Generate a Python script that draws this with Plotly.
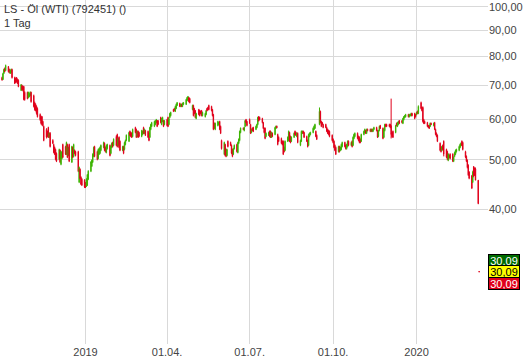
import numpy as np
import pandas as pd
import plotly.graph_objects as go

# ---------------- data ----------------
title_line1 = "LS - Öl (WTI) (792451) ()"
title_line2 = "1 Tag"

start_date = "2018-10-01"
end_date = "2020-03-10"

open_ = [
    72.6, 72.0, 74.0, 75.6, 75.0,
    76.3, 75.3, 74.0, 74.3, 75.3,
    72.6, 72.3, 72.6, 72.0, 71.7,
    68.5, 70.0, 69.7, 69.7, 67.9,
    67.9, 66.3, 66.6, 66.9, 67.9,
    66.9, 64.8, 64.3, 63.7, 63.1,
    61.4, 60.8, 60.8, 59.5, 58.2,
    57.4, 56.9, 57.9, 55.4, 56.4,
    54.6, 53.6, 52.9, 52.4, 51.5,
    50.1, 52.2, 49.0, 50.3, 53.6,
    53.1, 51.3, 53.6, 51.0, 53.6,
    49.5, 52.9, 50.8, 52.2, 51.9,
    51.9, 45.2, 47.9, 46.2, 45.8,
    45.6, 45.0, 44.4, 44.6, 45.8,
    47.5, 48.6, 49.5, 50.8, 53.1,
    51.9, 50.3, 51.3, 51.5, 52.2,
    52.9, 53.9, 52.9, 51.7, 52.6,
    53.4, 51.5, 52.9, 54.1, 53.4,
    55.6, 56.1, 53.4, 55.4, 54.4,
    52.2, 53.1, 52.4, 53.6, 54.6,
    54.4, 56.9, 56.6, 56.4, 55.6,
    57.9, 57.4, 55.6, 56.9, 56.6,
    55.6, 56.1, 57.9, 56.4, 57.1,
    56.9, 56.4, 55.4, 57.4, 58.2,
    58.2, 58.7, 59.2, 59.7, 59.7,
    60.6, 58.7, 59.5, 59.7, 58.7,
    60.0, 60.6, 58.7, 60.6, 61.1,
    62.8, 63.1, 62.3, 63.1, 64.0,
    64.6, 63.7, 64.3, 63.7, 64.3,
    64.3, 65.4, 65.7, 66.3, 66.0,
    62.8, 64.0, 63.1, 62.5, 60.3,
    62.8, 62.5, 62.3, 62.5, 61.1,
    60.8, 61.4, 63.1, 63.4, 64.0,
    63.7, 62.8, 61.4, 59.0, 57.4,
    58.4, 58.7, 59.5, 58.2, 54.6,
    51.3, 53.6, 52.4, 51.0, 54.4,
    54.1, 53.4, 52.4, 51.3, 52.6,
    53.6, 51.7, 53.9, 54.6, 56.6,
    57.7, 57.1, 58.2, 60.0, 59.5,
    60.0, 58.7, 56.6, 57.7, 57.9,
    57.4, 57.9, 58.7, 60.8, 60.6,
    60.3, 59.2, 57.7, 57.7, 55.6,
    55.9, 56.9, 56.9, 55.4, 56.4,
    56.1, 57.7, 58.2, 56.1, 55.4,
    55.1, 54.4, 54.4, 52.9, 52.2,
    54.4, 54.6, 56.6, 55.6, 54.4,
    55.4, 56.9, 56.6, 55.6, 56.4,
    53.4, 54.4, 56.4, 56.9, 56.6,
    55.6, 54.6, 53.4, 55.6, 56.1,
    56.6, 57.4, 57.7, 56.9, 55.9,
    58.7, 62.3, 59.5, 59.2, 58.7,
    58.7, 57.9, 57.4, 57.1, 56.9,
    55.9, 54.9, 54.4, 53.4, 52.9,
    51.9, 53.1, 52.2, 52.4, 53.1,
    54.1, 53.4, 52.6, 53.1, 54.4,
    53.4, 54.4, 53.4, 55.1, 55.6,
    56.4, 55.6, 55.4, 54.9, 54.4,
    56.1, 56.6, 57.1, 56.4, 57.4,
    57.4, 56.9, 57.4, 56.9, 57.4,
    57.9, 57.1, 55.6, 57.1, 58.4,
    57.7, 55.4, 57.1, 58.7, 58.7,
    58.7, 58.7, 58.4, 56.6, 56.9,
    56.6, 59.0, 58.2, 58.7, 59.7,
    59.7, 59.0, 60.0, 60.6, 60.8,
    61.4, 60.8, 61.1, 61.1, 61.7,
    61.7, 61.4, 61.4, 62.3, 61.7,
    64.8, 63.4, 63.4, 60.0, 59.5,
    59.2, 58.4, 58.4, 58.2, 59.0,
    58.4, 59.2, 57.4, 56.4, 55.9,
    53.9, 52.9, 52.2, 53.4, 54.4,
    52.4, 51.9, 49.9, 50.6, 51.3,
    51.3, 49.7, 50.8, 51.3, 51.9,
    52.2, 52.9, 53.4, 54.4, 54.1,
    51.9, 50.8, 49.9, 48.8, 47.3,
    46.5, 45.2, 48.5, 48.2, 48.0,
    45.6, 30.15,
]

high = [
    72.9, 74.2, 75.6, 76.0, 77.0,
    76.5, 75.6, 75.3, 75.6, 75.6,
    72.9, 72.6, 72.8, 72.3, 72.0,
    70.5, 70.3, 70.0, 69.9, 68.2,
    68.1, 68.1, 67.8, 68.2, 68.1,
    67.2, 65.1, 64.6, 64.0, 63.4,
    61.7, 61.1, 61.0, 59.7, 58.4,
    57.7, 57.1, 58.1, 56.6, 56.7,
    54.9, 53.8, 53.1, 52.6, 51.7,
    52.6, 52.4, 52.1, 51.9, 53.8,
    53.3, 54.3, 53.8, 53.1, 53.8,
    53.3, 53.1, 53.8, 52.4, 52.1,
    52.1, 48.5, 48.1, 46.4, 46.0,
    45.8, 45.2, 46.0, 46.9, 47.7,
    49.7, 50.1, 51.5, 53.1, 53.3,
    52.1, 52.6, 52.8, 53.1, 53.6,
    54.3, 54.1, 53.1, 53.6, 53.8,
    53.6, 53.3, 54.1, 54.3, 55.1,
    55.9, 56.3, 55.3, 55.6, 54.6,
    53.3, 53.3, 54.3, 54.8, 56.1,
    56.8, 57.1, 56.8, 56.6, 57.6,
    58.1, 57.6, 57.1, 57.1, 56.8,
    57.3, 57.1, 58.1, 57.6, 57.3,
    57.1, 56.6, 58.1, 58.9, 59.4,
    59.7, 59.9, 60.2, 59.9, 59.9,
    60.8, 60.5, 60.8, 59.9, 59.9,
    60.2, 60.8, 60.5, 61.9, 62.2,
    63.0, 63.3, 63.9, 64.5, 65.0,
    64.8, 64.5, 64.5, 64.8, 65.0,
    65.9, 66.5, 66.8, 66.5, 66.2,
    64.2, 64.2, 63.3, 62.7, 61.9,
    63.0, 62.7, 62.5, 62.7, 62.2,
    61.9, 62.7, 63.3, 63.6, 64.2,
    63.9, 63.0, 61.6, 59.2, 59.2,
    59.7, 59.4, 59.7, 58.4, 54.8,
    54.3, 53.8, 52.6, 52.6, 54.6,
    54.3, 53.6, 52.6, 52.8, 53.6,
    53.8, 54.3, 55.1, 57.1, 57.9,
    57.9, 58.1, 59.9, 60.2, 59.7,
    60.3, 58.9, 57.6, 57.9, 58.1,
    58.4, 58.9, 60.8, 61.0, 60.8,
    60.5, 59.4, 57.9, 57.9, 56.6,
    56.8, 57.1, 57.1, 56.8, 56.6,
    58.1, 58.4, 58.4, 56.3, 55.6,
    55.3, 54.6, 54.6, 53.1, 54.6,
    55.6, 57.1, 56.8, 55.8, 55.6,
    56.6, 57.1, 56.8, 56.6, 56.6,
    54.8, 57.1, 57.1, 57.1, 56.8,
    55.8, 54.8, 56.3, 56.6, 56.8,
    57.9, 58.4, 58.9, 57.1, 56.1,
    63.4, 62.5, 59.7, 59.4, 58.9,
    58.9, 58.1, 57.6, 57.3, 57.1,
    56.1, 55.1, 54.6, 53.6, 53.1,
    53.3, 53.3, 53.1, 53.8, 54.3,
    54.3, 53.6, 53.8, 54.6, 54.6,
    54.3, 54.6, 55.6, 56.3, 56.6,
    56.6, 55.8, 55.6, 55.1, 56.3,
    57.1, 57.6, 57.3, 57.6, 57.6,
    57.6, 57.6, 57.6, 57.6, 58.1,
    58.1, 57.3, 57.3, 58.4, 58.6,
    57.9, 57.6, 58.9, 58.9, 58.9,
    58.9, 58.9, 66.0, 56.8, 57.1,
    58.6, 59.2, 59.4, 59.7, 59.9,
    59.9, 60.5, 61.0, 61.3, 61.6,
    61.6, 61.6, 61.6, 61.9, 61.9,
    61.9, 61.6, 62.2, 62.5, 64.0,
    65.1, 63.6, 63.7, 60.2, 59.7,
    59.4, 58.6, 58.6, 59.2, 59.2,
    59.2, 59.4, 57.6, 56.6, 56.1,
    54.1, 53.1, 53.3, 53.6, 54.6,
    52.6, 52.1, 51.5, 51.2, 51.5,
    51.5, 50.8, 51.9, 52.4, 52.6,
    53.3, 53.8, 54.1, 54.6, 54.3,
    52.1, 51.0, 50.1, 49.0, 47.5,
    46.7, 47.6, 48.6, 48.3, 48.3,
    45.6, 30.2,
]

low = [
    71.6, 71.8, 73.8, 74.4, 74.8,
    74.3, 74.0, 73.8, 74.0, 72.3,
    70.5, 70.8, 71.0, 70.5, 69.5,
    68.3, 68.5, 68.2, 65.5, 65.4,
    65.8, 66.1, 66.4, 66.7, 64.8,
    63.4, 62.5, 62.3, 61.4, 60.6,
    59.7, 58.7, 58.4, 58.2, 54.4,
    55.1, 55.4, 55.2, 55.2, 52.9,
    53.7, 51.5, 51.1, 49.9, 49.5,
    49.9, 49.3, 48.8, 50.1, 50.4,
    51.1, 51.1, 50.4, 50.8, 49.5,
    49.3, 50.4, 50.6, 51.3, 50.8,
    47.3, 45.0, 45.8, 44.6, 44.4,
    44.0, 44.0, 44.2, 44.4, 45.6,
    47.3, 48.4, 49.3, 50.6, 50.6,
    49.9, 50.1, 51.1, 51.3, 52.0,
    52.7, 52.0, 51.7, 51.5, 52.4,
    50.8, 51.3, 52.7, 52.9, 53.2,
    53.2, 52.9, 53.2, 52.7, 52.0,
    52.0, 51.3, 52.2, 53.4, 54.4,
    54.2, 55.7, 55.4, 55.2, 55.4,
    56.4, 55.2, 55.4, 55.2, 55.4,
    55.4, 55.9, 56.2, 56.2, 55.7,
    55.2, 54.4, 55.2, 57.2, 58.0,
    58.0, 58.5, 59.0, 58.0, 58.5,
    59.0, 58.5, 59.3, 58.0, 58.5,
    58.2, 58.0, 58.5, 60.4, 60.9,
    62.1, 62.3, 62.1, 62.9, 63.8,
    63.5, 63.5, 63.5, 63.5, 64.1,
    64.1, 65.2, 65.5, 64.9, 64.6,
    62.6, 60.9, 61.5, 60.4, 60.1,
    61.2, 60.9, 61.5, 60.9, 60.9,
    60.6, 61.2, 62.3, 62.6, 62.6,
    62.3, 60.9, 57.2, 57.5, 57.2,
    58.2, 58.5, 57.2, 56.2, 52.4,
    51.1, 50.8, 50.6, 50.8, 52.9,
    53.2, 51.3, 50.6, 51.1, 52.4,
    51.7, 51.5, 53.7, 54.4, 56.4,
    57.2, 56.9, 58.0, 59.0, 58.2,
    58.8, 56.2, 56.4, 56.9, 56.7,
    57.2, 57.7, 58.5, 59.5, 59.8,
    59.0, 57.5, 56.4, 54.9, 55.4,
    55.7, 55.4, 55.2, 55.2, 55.4,
    55.9, 57.5, 57.7, 53.4, 54.2,
    53.7, 53.4, 51.1, 51.7, 52.0,
    54.2, 54.4, 54.2, 53.9, 54.2,
    55.2, 55.9, 55.7, 55.4, 53.9,
    53.2, 54.2, 56.2, 56.2, 55.2,
    54.2, 52.9, 53.2, 55.4, 55.9,
    56.4, 57.2, 57.5, 55.4, 54.7,
    58.5, 59.0, 58.0, 58.5, 57.7,
    57.7, 56.7, 56.2, 55.9, 55.4,
    54.4, 53.9, 52.7, 52.0, 51.1,
    51.7, 51.7, 52.0, 52.2, 52.9,
    52.9, 52.4, 52.4, 52.9, 53.2,
    53.2, 52.9, 53.2, 54.9, 55.4,
    54.9, 54.4, 53.9, 53.9, 54.2,
    55.9, 56.4, 56.2, 56.2, 56.9,
    56.7, 56.7, 56.7, 56.7, 57.2,
    56.9, 55.2, 55.4, 56.9, 57.5,
    54.9, 55.2, 56.9, 58.0, 58.0,
    58.0, 57.7, 55.1, 55.4, 55.2,
    56.4, 58.2, 58.0, 58.5, 58.8,
    59.0, 58.8, 59.8, 60.4, 60.6,
    60.6, 60.6, 60.9, 60.9, 60.9,
    60.1, 60.6, 61.2, 61.5, 61.5,
    62.9, 62.3, 59.2, 58.8, 58.8,
    58.0, 57.7, 57.5, 58.0, 58.5,
    58.2, 57.2, 55.9, 55.4, 54.2,
    52.0, 51.7, 52.0, 52.2, 50.8,
    50.4, 49.9, 49.7, 50.4, 50.1,
    49.5, 49.5, 50.6, 51.1, 51.7,
    52.0, 52.7, 53.2, 53.2, 52.2,
    50.4, 49.5, 48.1, 46.5, 45.8,
    43.8, 45.0, 46.2, 46.5, 45.6,
    40.9, 30.05,
]

close = [
    71.8, 73.9, 75.3, 74.6, 76.7,
    74.6, 74.3, 75.0, 75.3, 72.6,
    70.7, 71.0, 71.3, 70.7, 69.7,
    70.3, 68.8, 68.5, 65.7, 65.7,
    66.0, 67.9, 67.5, 67.9, 65.1,
    63.7, 62.8, 62.5, 61.7, 60.8,
    60.0, 59.0, 58.7, 58.4, 54.6,
    55.4, 55.6, 55.4, 56.4, 53.1,
    53.9, 51.7, 51.3, 50.1, 49.7,
    52.4, 49.5, 51.9, 51.7, 50.6,
    51.3, 54.1, 50.6, 52.9, 49.7,
    53.1, 50.6, 53.6, 51.5, 51.0,
    47.5, 48.3, 46.0, 44.8, 44.6,
    44.2, 44.2, 45.8, 46.7, 47.5,
    49.5, 49.9, 51.3, 52.9, 50.8,
    50.1, 52.4, 52.6, 52.9, 53.4,
    54.1, 52.2, 51.9, 53.4, 53.6,
    51.0, 53.1, 53.9, 53.1, 54.9,
    53.4, 53.1, 55.1, 52.9, 52.2,
    53.1, 51.5, 54.1, 54.6, 55.9,
    56.6, 55.9, 55.6, 55.4, 57.4,
    56.6, 55.4, 56.9, 55.4, 55.6,
    57.1, 56.9, 56.4, 57.4, 55.9,
    55.4, 54.6, 57.9, 58.7, 59.2,
    59.5, 59.7, 60.0, 58.2, 58.7,
    59.2, 60.3, 60.6, 58.2, 59.7,
    58.4, 58.2, 60.3, 61.7, 62.0,
    62.3, 62.5, 63.7, 64.3, 64.8,
    63.7, 64.3, 63.7, 64.6, 64.8,
    65.7, 66.3, 66.6, 65.1, 64.8,
    64.0, 61.1, 61.7, 60.6, 61.7,
    61.4, 61.1, 61.7, 61.1, 62.0,
    61.7, 62.5, 62.5, 62.8, 62.8,
    62.5, 61.1, 57.4, 57.7, 59.0,
    59.5, 59.2, 57.4, 56.4, 52.6,
    54.1, 51.0, 50.8, 52.4, 53.1,
    53.4, 51.5, 50.8, 52.6, 53.4,
    51.9, 54.1, 54.9, 56.9, 57.7,
    57.4, 57.9, 59.7, 59.2, 58.4,
    59.0, 56.4, 57.4, 57.1, 56.9,
    58.2, 58.7, 60.6, 59.7, 60.0,
    59.2, 57.7, 56.6, 55.1, 56.4,
    56.6, 55.6, 55.4, 56.6, 55.6,
    57.9, 58.2, 57.9, 53.6, 54.4,
    53.9, 53.6, 51.3, 51.9, 54.4,
    55.4, 56.9, 54.4, 54.1, 55.4,
    56.4, 56.1, 55.9, 56.4, 54.1,
    54.6, 56.9, 56.9, 56.4, 55.4,
    54.4, 53.1, 56.1, 56.4, 56.6,
    57.7, 58.2, 58.7, 55.6, 54.9,
    62.3, 59.2, 58.2, 58.7, 57.9,
    57.9, 56.9, 56.4, 56.1, 55.6,
    54.6, 54.1, 52.9, 52.2, 51.3,
    53.1, 51.9, 52.9, 53.6, 54.1,
    53.1, 52.6, 53.6, 54.4, 53.4,
    54.1, 53.1, 55.4, 56.1, 56.4,
    55.1, 54.6, 54.1, 54.1, 56.1,
    56.9, 57.4, 56.4, 57.4, 57.1,
    56.9, 57.4, 56.9, 57.4, 57.9,
    57.1, 55.4, 57.1, 58.2, 57.7,
    55.1, 57.4, 58.7, 58.2, 58.2,
    58.2, 57.9, 56.1, 55.6, 55.4,
    58.4, 58.4, 59.2, 59.5, 59.0,
    59.2, 60.3, 60.8, 61.1, 61.4,
    60.8, 61.4, 61.4, 61.7, 61.1,
    60.3, 60.8, 62.0, 61.7, 63.7,
    63.1, 62.5, 59.5, 59.0, 59.0,
    58.2, 57.9, 57.7, 59.0, 58.7,
    59.0, 57.4, 56.1, 55.6, 54.4,
    52.2, 51.9, 53.1, 52.4, 51.3,
    50.6, 50.1, 51.3, 51.0, 50.3,
    49.7, 50.6, 51.7, 52.2, 52.4,
    53.1, 53.6, 53.9, 53.4, 52.4,
    50.6, 49.7, 48.3, 46.7, 46.0,
    44.0, 47.3, 46.5, 46.6, 45.6,
    41.0, 30.09,
]

x_tick_dates = ["2019-01-01", "2019-04-01", "2019-07-01", "2019-10-01", "2020-01-01"]
x_tick_labels = ["2019", "01.04.", "01.07.", "01.10.", "2020"]
y_tick_values = [40, 50, 60, 70, 80, 90, 100]

# ---------------- figure ----------------
dates = pd.bdate_range(start_date, end_date)
assert len(dates) == len(open_) == len(high) == len(low) == len(close), (
    len(dates), len(open_), len(high), len(low), len(close))

GREEN = "#3cb300"
RED = "#e0001b"
GRID = "#d9d9d9"
FONT = "Liberation Sans, Arial, sans-serif"

fig = go.Figure()
fig.add_trace(go.Candlestick(
    x=dates, open=open_, high=high, low=low, close=close,
    increasing=dict(line=dict(color=GREEN, width=1), fillcolor=GREEN),
    decreasing=dict(line=dict(color=RED, width=1), fillcolor=RED),
    whiskerwidth=0, hoverinfo="skip", showlegend=False,
))

last = close[-1]
last_txt = f"{last:.2f}".replace(".", ",")
box_styles = [("#006b00", "white", 11.5), ("#ffff00", "black", 0), (RED, "white", -12)]
for bg, fg, shift in box_styles:
    fig.add_annotation(
        xref="paper", x=1, xanchor="left", xshift=0,
        yref="y", y=np.log10(last), yanchor="middle", yshift=shift,
        text=last_txt, showarrow=False,
        font=dict(family=FONT, size=11, color=fg),
        bgcolor=bg, bordercolor="black", borderwidth=1, borderpad=0,
        width=30, height=11,
    )

fig.add_annotation(
    xref="paper", yref="paper", x=0, y=1, xanchor="left", yanchor="top",
    xshift=2, yshift=-1, align="left", showarrow=False,
    text=f"{title_line1}<br>{title_line2}",
    font=dict(family=FONT, size=11, color="#333333"),
)

fig.update_layout(
    width=530, height=359,
    margin=dict(l=0, r=42, t=0, b=15),
    paper_bgcolor="white", plot_bgcolor="white",
    separators=",.",
    font=dict(family=FONT, size=11, color="#444444"),
    showlegend=False,
    xaxis=dict(
        type="date",
        range=["2018-09-28 17:30", "2020-03-19 19:00"],
        tickvals=x_tick_dates, ticktext=x_tick_labels,
        showgrid=True, gridcolor=GRID, gridwidth=1,
        zeroline=False, showline=False, ticks="",
        rangeslider=dict(visible=False),
        tickfont=dict(family=FONT, size=11, color="#444444"),
    ),
    yaxis=dict(
        type="log", side="right",
        range=[np.log10(21.7), np.log10(103.2)],
        tickvals=y_tick_values, tickformat=".2f",
        showgrid=True, gridcolor=GRID, gridwidth=1,
        zeroline=False, showline=False, ticks="",
        tickfont=dict(family=FONT, size=11, color="#444444"),
    ),
)

fig.write_html(
    "out.html",
    config={"displayModeBar": False},
    post_script="document.body.style.margin='0';document.body.style.overflow='hidden';",
)
